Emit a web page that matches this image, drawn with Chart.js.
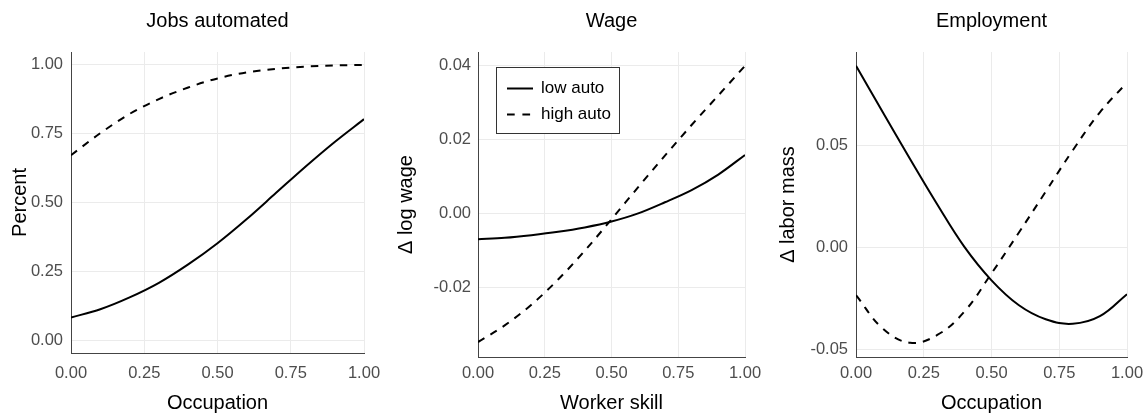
<!DOCTYPE html>
<html>
<head>
<meta charset="utf-8">
<script src="https://cdn.jsdelivr.net/npm/chart.js@4"></script>
<style>
  html, body { margin: 0; padding: 0; background: #fff; }
  #wrap { position: relative; width: 1146px; height: 413px; }
  #wrap canvas { position: absolute; top: 0; }
</style>
</head>
<body>
<div id="wrap">
  <canvas id="jobsChart" width="382" height="413" style="left:0px"></canvas>
  <canvas id="wageChart" width="382" height="413" style="left:382px"></canvas>
  <canvas id="employmentChart" width="382" height="413" style="left:764px"></canvas>
</div>
<script>
// shared x positions (occupation / worker skill)
const xs = [0, 0.1, 0.2, 0.3, 0.4, 0.5, 0.6, 0.7, 0.8, 0.9, 1.0];
const xTicks = [0, 0.25, 0.5, 0.75, 1];
const seriesNames = ['low auto', 'high auto'];

// Jobs automated (percent)
const jobsLow = [0.082, 0.112, 0.155, 0.208, 0.275, 0.352, 0.44, 0.535, 0.63, 0.72, 0.803];
const jobsHigh = [0.672, 0.752, 0.822, 0.876, 0.918, 0.951, 0.973, 0.986, 0.994, 0.998, 1.0];
const jobsTicks = [0, 0.25, 0.5, 0.75, 1];

// Wage (delta log wage)
const wageLow = [-0.0069, -0.0065, -0.0058, -0.0049, -0.0037, -0.0021, 0.0001, 0.0031, 0.0064, 0.0106, 0.0159];
const wageHigh = [-0.0347, -0.0302, -0.0246, -0.0178, -0.0100, -0.0015, 0.0072, 0.0157, 0.0240, 0.0320, 0.0400];
const wageTicks = [-0.02, 0, 0.02, 0.04];

// Employment (delta labor mass)
const empLow = [0.089, 0.066, 0.0432, 0.021, 0.0002, -0.0162, -0.0283, -0.0353, -0.0375, -0.0338, -0.0230];
const empHigh = [-0.0235, -0.0400, -0.0468, -0.0430, -0.0315, -0.0128, 0.0070, 0.0273, 0.0476, 0.0662, 0.0808];
const empTicks = [-0.05, 0, 0.05];

const FONT = '"Liberation Sans", Arial, sans-serif';
const GRID = '#ebebeb';
const AXIS = '#444444';
const TICK = '#4d4d4d';
const DASH = [7.5, 7];

// title drawn centred over the plot panel, like ggplot
const panelTitle = {
    id: 'panelTitle',
    afterDraw(chart, args, opts) {
        const ctx = chart.ctx;
        const area = chart.chartArea;
        ctx.save();
        ctx.font = '20px ' + FONT;
        ctx.fillStyle = '#000';
        ctx.textAlign = 'center';
        ctx.textBaseline = 'alphabetic';
        ctx.fillText(opts.text, (area.left + area.right) / 2, 27);
        ctx.restore();
    }
};

// boxed legend inside the panel (only used on the wage chart)
const boxLegend = {
    id: 'boxLegend',
    afterDraw(chart, args, opts) {
        if (!opts.show) return;
        const ctx = chart.ctx;
        const area = chart.chartArea;
        const bx = area.left + 18.5;
        const by = area.top + 15.5;
        ctx.save();
        ctx.fillStyle = '#fff';
        ctx.fillRect(bx, by, 123, 66);
        ctx.strokeStyle = '#333';
        ctx.lineWidth = 1;
        ctx.strokeRect(bx, by, 123, 66);
        ctx.font = '17px ' + FONT;
        ctx.textBaseline = 'middle';
        ctx.textAlign = 'left';
        chart.data.datasets.forEach((ds, i) => {
            const y = by + 21 + i * 26;
            ctx.beginPath();
            ctx.strokeStyle = '#000';
            ctx.lineWidth = 2;
            ctx.setLineDash(ds.borderDash ? [7.7, 7.7] : []);
            ctx.moveTo(bx + 10.5, y);
            ctx.lineTo(bx + 36.5, y);
            ctx.stroke();
            ctx.setLineDash([]);
            ctx.fillStyle = '#000';
            ctx.fillText(ds.label, bx + 44.5, y);
        });
        ctx.restore();
    }
};

function makeLines(lowVals, highVals, smooth) {
    const curve = smooth === 'tension'
        ? { tension: 0.4, cubicInterpolationMode: 'default' }
        : { cubicInterpolationMode: 'monotone' };
    return [
        Object.assign({
            label: seriesNames[0],
            data: xs.map((x, i) => ({ x: x, y: lowVals[i] })),
            borderColor: '#000',
            borderWidth: 2,
            pointRadius: 0
        }, curve),
        Object.assign({
            label: seriesNames[1],
            data: xs.map((x, i) => ({ x: x, y: highVals[i] })),
            borderColor: '#000',
            borderWidth: 2,
            borderDash: DASH,
            pointRadius: 0
        }, curve)
    ];
}

function createPanel(id, cfg) {
    const ctx = document.getElementById(id);
    return new Chart(ctx, {
        type: 'line',
        data: { datasets: makeLines(cfg.low, cfg.high, cfg.smooth) },
        plugins: [panelTitle, boxLegend],
        options: {
            responsive: false,
            animation: false,
            devicePixelRatio: 1,
            layout: { padding: { top: cfg.top, right: 382 - cfg.right, left: 0, bottom: 0 } },
            plugins: {
                legend: { display: false },
                tooltip: { enabled: false },
                panelTitle: { text: cfg.title },
                boxLegend: { show: !!cfg.legend }
            },
            scales: {
                x: {
                    type: 'linear',
                    min: 0,
                    max: 1,
                    afterBuildTicks: s => { s.ticks = xTicks.map(v => ({ value: v })); },
                    afterFit: s => {
                        s.height = 413 - cfg.bottom;
                        s.paddingLeft = 0;
                        s.paddingRight = 0;
                    },
                    grid: { color: GRID, lineWidth: 1, drawTicks: false },
                    border: { display: true, color: AXIS, width: 1 },
                    ticks: {
                        color: TICK,
                        padding: cfg.xPad,
                        maxRotation: 0,
                        font: { family: FONT, size: 16.5 },
                        callback: v => Number(v).toFixed(2)
                    },
                    title: {
                        display: true,
                        text: cfg.xTitle,
                        color: '#000',
                        font: { family: FONT, size: 20, lineHeight: 1 },
                        padding: { top: 0, bottom: 0 }
                    }
                },
                y: {
                    type: 'linear',
                    min: cfg.yMin,
                    max: cfg.yMax,
                    afterBuildTicks: s => { s.ticks = cfg.yTicks.map(v => ({ value: v })); },
                    afterFit: s => {
                        s.width = cfg.left;
                        s.paddingTop = 0;
                        s.paddingBottom = 0;
                    },
                    grid: { color: GRID, lineWidth: 1, drawTicks: false },
                    border: { display: true, color: AXIS, width: 1 },
                    ticks: {
                        color: TICK,
                        padding: cfg.yPad,
                        font: { family: FONT, size: 16.5 },
                        callback: v => Number(v).toFixed(2)
                    },
                    title: {
                        display: true,
                        text: cfg.yTitle,
                        color: '#000',
                        font: { family: FONT, size: 20, lineHeight: 1 },
                        padding: { top: cfg.yTitlePad, bottom: 0 }
                    }
                }
            }
        }
    });
}

createPanel('jobsChart', {
    title: 'Jobs automated', xTitle: 'Occupation', yTitle: 'Percent',
    low: jobsLow, high: jobsHigh, yTicks: jobsTicks,
    yMin: -0.047, yMax: 1.047,
    left: 71, right: 364, top: 52, bottom: 353,
    xPad: 11, yPad: 8, yTitlePad: 10
});

createPanel('wageChart', {
    title: 'Wage', xTitle: 'Worker skill', yTitle: '\u0394 log wage',
    low: wageLow, high: wageHigh, yTicks: wageTicks,
    yMin: -0.03875, yMax: 0.04375,
    left: 96, right: 363, top: 52, bottom: 357,
    xPad: 7, yPad: 7, yTitlePad: 14, legend: true
});

createPanel('employmentChart', {
    title: 'Employment', xTitle: 'Occupation', yTitle: '\u0394 labor mass',
    low: empLow, high: empHigh, yTicks: empTicks,
    yMin: -0.0538, yMax: 0.0958,
    left: 92, right: 363, top: 52, bottom: 357,
    xPad: 7, yPad: 8, yTitlePad: 14, smooth: 'tension'
});
</script>
</body>
</html>
